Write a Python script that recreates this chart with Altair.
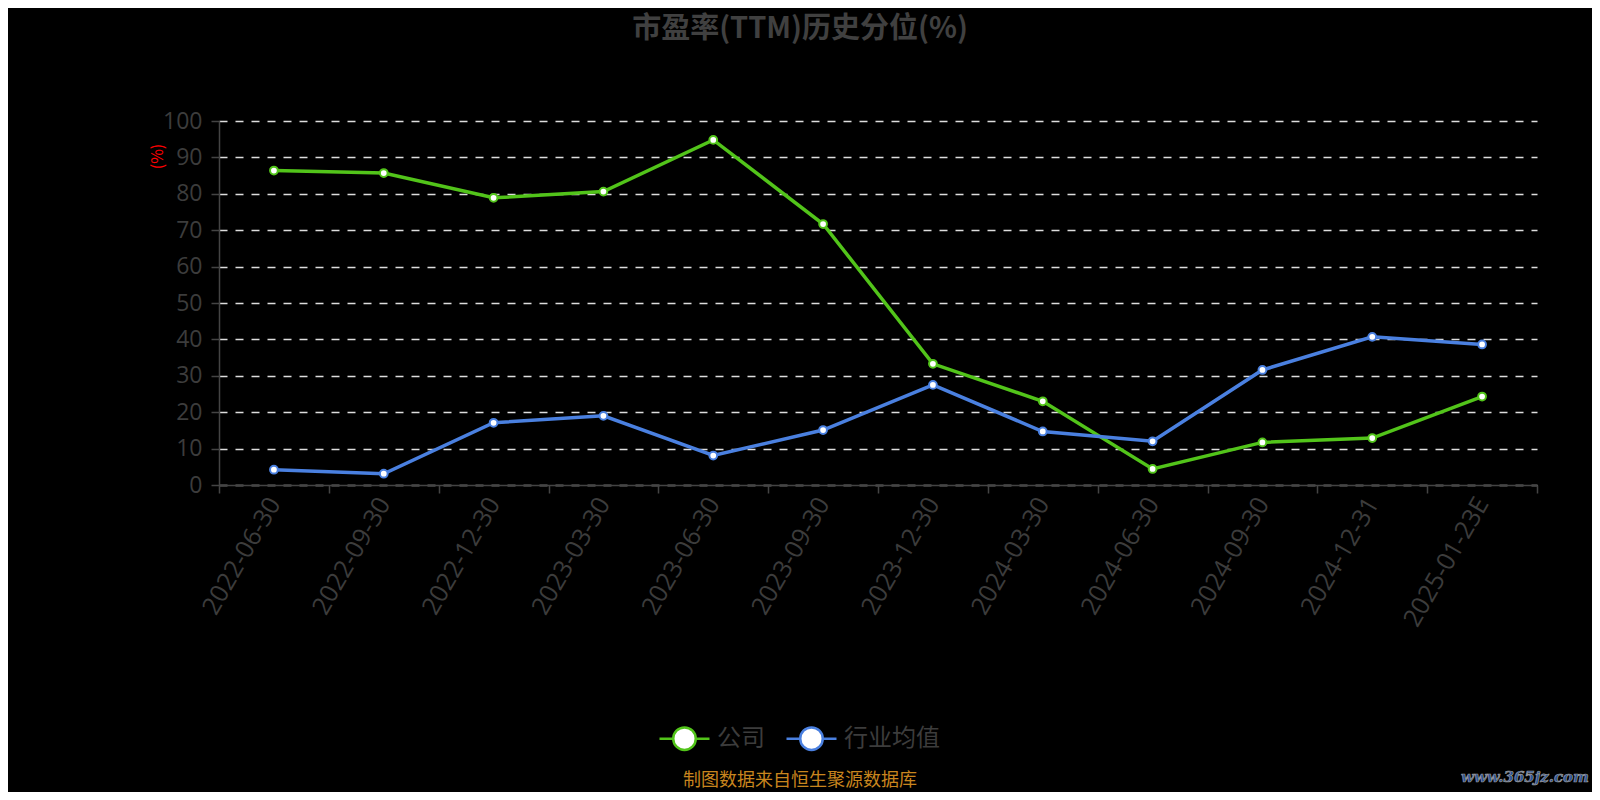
import altair as alt
import pandas as pd

dates = ["2022-06-30", "2022-09-30", "2022-12-30", "2023-03-30", "2023-06-30", "2023-09-30",
         "2023-12-30", "2024-03-30", "2024-06-30", "2024-09-30", "2024-12-31", "2025-01-23E"]
company = [86.4, 85.7, 78.9, 80.6, 94.8, 71.7, 33.3, 23.0, 4.4, 11.7, 12.9, 24.3]
industry = [4.2, 3.1, 17.1, 19.0, 8.1, 15.1, 27.5, 14.7, 12.0, 31.6, 40.7, 38.6]
series_names = ["公司", "行业均值"]
colors = ["#52c41a", "#4a80e0"]

rows = []
for d, c, i in zip(dates, company, industry):
    rows.append({"date": d, "series": series_names[0], "value": c})
    rows.append({"date": d, "series": series_names[1], "value": i})
df = pd.DataFrame(rows)

FONT = "Noto Sans CJK SC"
NUMFONT = "Open Sans"
TXT = "#3c3c3c"

x_enc = alt.X("date:N", sort=dates,
              scale=alt.Scale(type="band", paddingInner=0, paddingOuter=0),
              axis=alt.Axis(title=None, labelAngle=300, labelAlign="right", labelBaseline="middle",
                            labelFontSize=25, labelColor=TXT, labelFont=NUMFONT, labelPadding=6,
                            tickBand="extent", tickSize=8, tickColor="#444444", tickWidth=1.5,
                            domainColor="#444444", domainWidth=1.5, grid=False, labelOverlap=False))
y_enc = alt.Y("value:Q", scale=alt.Scale(domain=[0, 100], nice=False),
              axis=alt.Axis(title="(%)", titleColor="red", titleFontSize=16, titleFontWeight="normal",
                            titleFont=FONT, titleX=-62, titleY=35, titleAngle=270,
                            titleAlign="center", titleBaseline="middle",
                            values=list(range(0, 101, 10)), labelFontSize=23, labelColor=TXT,
                            labelFont=NUMFONT, labelPadding=9, tickSize=8, tickColor="#444444",
                            tickWidth=1.5, domainColor="#444444", domainWidth=1.5,
                            grid=True, gridColor="#dddddd", gridDash=[8, 8], gridWidth=1.5))

color_scale = alt.Scale(domain=series_names, range=colors)
sym_path = ("M -0.45 0 A 0.45 0.45 0 1 0 0.45 0 A 0.45 0.45 0 1 0 -0.45 0 Z "
            "M -1 0 L -0.45 0 M 0.45 0 L 1 0")
legend = alt.Legend(title=None, orient="none", legendX=439, legendY=591,
                    direction="horizontal", symbolType=sym_path, symbolSize=2500,
                    symbolStrokeWidth=2.5, symbolFillColor="white", symbolOpacity=1,
                    labelFontSize=24, labelColor=TXT, labelFont=FONT,
                    labelOffset=6, columnPadding=16, padding=0)

base = alt.Chart(df)
lines = base.mark_line(strokeWidth=3.5).encode(
    x=x_enc, y=y_enc,
    color=alt.Color("series:N", scale=color_scale, legend=legend),
)
points = base.mark_point(filled=False, fill="white", fillOpacity=1, size=60, strokeWidth=2, opacity=1).encode(
    x=x_enc, y=y_enc,
    color=alt.Color("series:N", scale=color_scale, legend=legend),
)

title = alt.Chart(pd.DataFrame({"t": ["市盈率(TTM)历史分位(%)"]})).mark_text(
    fontSize=29, fontWeight="bold", color="#404040", font=FONT, align="center", baseline="middle"
).encode(x=alt.value(581), y=alt.value(-92), text="t:N")

footer = alt.Chart(pd.DataFrame({"t": ["制图数据来自恒生聚源数据库"]})).mark_text(
    fontSize=18, color="#c8851e", font=FONT, align="center", baseline="middle"
).encode(x=alt.value(581), y=alt.value(660), text="t:N")

wm = alt.Chart(pd.DataFrame({"t": ["www.365jz.com"]})).mark_text(
    fontSize=15, color="#2a5298", stroke="#9a9a9a", strokeWidth=0.7, font="DejaVu Serif",
    fontWeight="bold", fontStyle="italic", align="center", baseline="middle"
).encode(x=alt.value(1306), y=alt.value(656), text="t:N")

chart = alt.layer(lines, points, title, footer, wm).properties(
    width=1318, height=364,
    autosize=alt.AutoSizeParams(type="none"),
    padding={"left": 211, "top": 113, "right": 55, "bottom": 307},
    background="black",
).configure_view(stroke=None)

chart.save("out.html", embed_options={"renderer": "svg", "actions": False})
